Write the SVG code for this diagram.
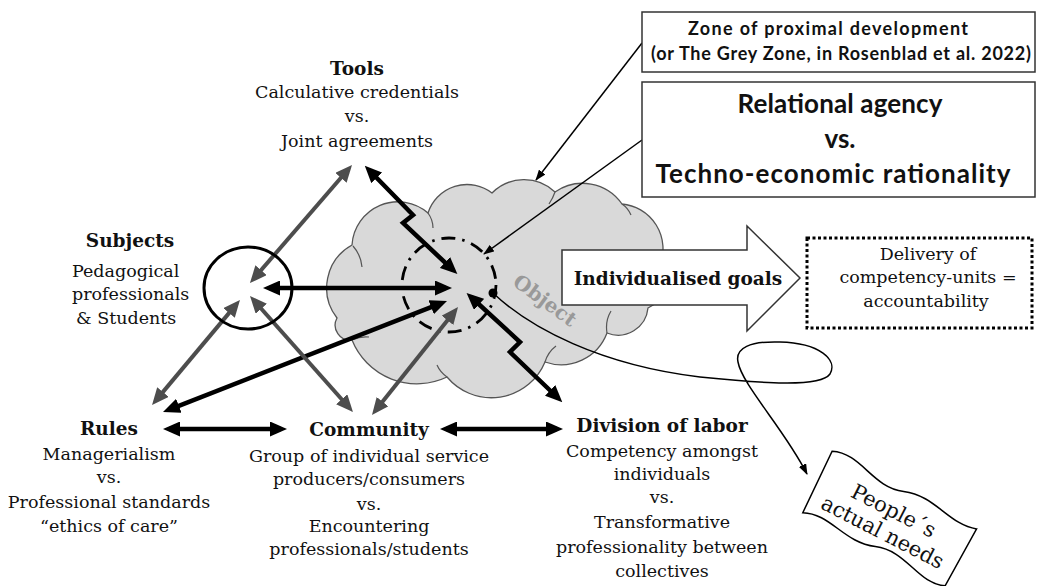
<svg xmlns="http://www.w3.org/2000/svg" width="1037" height="586" viewBox="0 0 1037 586">
<style>
.t{font-family:"DejaVu Serif","Liberation Serif",serif;font-size:17.5px;fill:#111;text-anchor:middle}
.b{font-weight:bold;font-size:18.5px}
.s{font-family:Lato,"Liberation Sans",sans-serif;font-weight:bold;fill:#111;text-anchor:middle}
.ab{fill:none;stroke:#000;stroke-width:4.5;marker-start:url(#ahB);marker-end:url(#ahB)}
.ag{fill:none;stroke:#4d4d4d;stroke-width:4;marker-start:url(#ahG);marker-end:url(#ahG)}
.lead{fill:none;stroke:#000;stroke-width:1.5;marker-end:url(#ahS)}
.crease{fill:none;stroke:#555;stroke-width:1.2}
</style>
<defs>
<marker id="ahB" viewBox="0 0 17 15" refX="11" refY="7.5" markerWidth="17" markerHeight="15" markerUnits="userSpaceOnUse" orient="auto-start-reverse"><path d="M0,0 L17,7.5 L0,15 z" fill="#000"/></marker>
<marker id="ahG" viewBox="0 0 17 15" refX="11" refY="7.5" markerWidth="17" markerHeight="15" markerUnits="userSpaceOnUse" orient="auto-start-reverse"><path d="M0,0 L17,7.5 L0,15 z" fill="#4d4d4d"/></marker>
<marker id="ahS" viewBox="0 0 11 8" refX="10" refY="4" markerWidth="11" markerHeight="8" markerUnits="userSpaceOnUse" orient="auto"><path d="M0,0 L11,4 L0,8 z" fill="#000"/></marker>
</defs>
<rect width="1037" height="586" fill="#fff"/>

<g id="object">
<path d="M337 318 A49 49 0 0 1 352 245 A46 46 0 0 1 428 213 A41 41 0 0 1 492 193 A45 45 0 0 1 555 192 A48 48 0 0 1 622 204 A45 45 0 0 1 660 265 A29 29 0 0 1 648 308 A30 30 0 0 1 607 333 A49 49 0 0 1 545 362 A58 58 0 0 1 447 377 A70 70 0 0 1 352 340 A15 15 0 0 1 337 318 Z" fill="#d9d9d9" stroke="#555" stroke-width="1.3"/>
<path class="crease" d="M353 246 Q361 255 362 267 M428 213 Q433 220 433 228 M555 192 Q553 198 549 204 M622 204 Q628 208 631 215 M607 333 Q605 321 611 311 M545 362 Q548 352 556 346 M447 377 Q440 372 437 365 M352 340 Q361 336 369 337"/>
<circle cx="449" cy="285" r="47" fill="none" stroke="#000" stroke-width="2.8" stroke-dasharray="14 7 2.5 7"/>
<text class="t b" transform="translate(541 306) rotate(36)" style="fill:#999;font-size:20px">Object</text>
</g>

<g id="connectors">
<path class="ab" d="M269 288 L446 288"/>
<path class="ab" d="M369 170 L413 215 L403 223 L453 270"/>
<path class="ab" d="M168.6 409.8 L441.4 303.2"/>
<path class="ab" d="M471 297 L520 342 L510 352 L558 398"/>
<path class="ab" d="M169 429 L281 429"/>
<path class="ab" d="M446 429 L557 429"/>
<path class="ag" d="M253.9 278.5 L348.1 169.5"/>
<path class="ag" d="M155.9 400.4 L236.1 304.6"/>
<path class="ag" d="M254 300.5 L349 407.5"/>
<path class="ag" d="M375.7 410.3 L454.3 311.7"/>
<path class="lead" d="M642 43 L536 180"/>
<path class="lead" d="M642 140 L484 254"/>
<path class="lead" d="M493 293 C530 328 600 365 700 377 C760 383 820 388 830 374 C838 360 820 343 780 342 C750 341 735 348 738 362 C742 385 785 430 807 474"/>
<circle cx="493" cy="293" r="4.5" fill="#000"/>
</g>

<g id="tools">
<text class="t b" x="357" y="75">Tools</text>
<text class="t" x="357" y="98">Calculative credentials</text>
<text class="t" x="357" y="122">vs.</text>
<text class="t" x="357" y="147">Joint agreements</text>
</g>

<g id="subjects">
<ellipse cx="248" cy="288" rx="44" ry="41" fill="none" stroke="#000" stroke-width="3"/>
<text class="t b" x="130" y="247">Subjects</text>
<text class="t" x="72" y="277" style="text-anchor:start">Pedagogical</text>
<text class="t" x="72" y="300" style="text-anchor:start">professionals</text>
<text class="t" x="76" y="324" style="text-anchor:start">&amp; Students</text>
</g>

<g id="rules">
<text class="t b" x="109" y="435">Rules</text>
<text class="t" x="109" y="460">Managerialism</text>
<text class="t" x="109" y="483">vs.</text>
<text class="t" x="109" y="508">Professional standards</text>
<text class="t" x="109" y="532">“ethics of care”</text>
</g>

<g id="community">
<text class="t b" x="369" y="436">Community</text>
<text class="t" x="369" y="462">Group of individual service</text>
<text class="t" x="369" y="485">producers/consumers</text>
<text class="t" x="369" y="510">vs.</text>
<text class="t" x="369" y="532">Encountering</text>
<text class="t" x="369" y="555">professionals/students</text>
</g>

<g id="division">
<text class="t b" x="662" y="432">Division of labor</text>
<text class="t" x="662" y="457">Competency amongst</text>
<text class="t" x="662" y="480">individuals</text>
<text class="t" x="662" y="503">vs.</text>
<text class="t" x="662" y="528">Transformative</text>
<text class="t" x="662" y="553">professionality between</text>
<text class="t" x="662" y="577">collectives</text>
</g>

<g id="zpd">
<rect x="642" y="12" width="393" height="60" fill="#fff" stroke="#333" stroke-width="1.5"/>
<text class="s" x="828" y="35" style="font-size:18px" textLength="280">Zone of proximal development</text>
<text class="s" x="841" y="60" style="font-size:18px" textLength="380">(or The Grey Zone, in Rosenblad et al. 2022)</text>
</g>

<g id="relational">
<rect x="642" y="82" width="393" height="115" fill="#fff" stroke="#333" stroke-width="1.5"/>
<text class="s" x="840" y="113" style="font-size:26px" textLength="205">Relational agency</text>
<text class="s" x="840" y="148" style="font-size:26px">vs.</text>
<text class="s" x="833" y="183" style="font-size:26px" textLength="355">Techno-economic rationality</text>
</g>

<g id="goals">
<path d="M562 250 L747 250 L747 226 L800 278 L747 331 L747 305 L562 305 Z" fill="#fff" stroke="#333" stroke-width="1.5"/>
<text class="t b" x="678" y="285" style="font-size:18.5px">Individualised goals</text>
</g>

<g id="delivery">
<rect x="807" y="238" width="225" height="90" fill="#fff" stroke="#000" stroke-width="3" stroke-dasharray="3 2.5"/>
<text class="t" x="928" y="260">Delivery of</text>
<text class="t" x="928" y="283">competency-units =</text>
<text class="t" x="926" y="307">accountability</text>
</g>

<g id="needs" transform="translate(889.5 519) rotate(27.2)">
<path d="M-82 -34 C-55 -46 -30 -20 0 -31 C30 -42 55 -22 82 -31 L80 34 C55 45 30 20 0 31 C-30 42 -55 22 -80 34 Z" fill="#fff" stroke="#000" stroke-width="1.5"/>
<text class="t" x="0" y="-2" style="font-size:21px">People´s</text>
<text class="t" x="0" y="22" style="font-size:21px">actual needs</text>
</g>
</svg>
